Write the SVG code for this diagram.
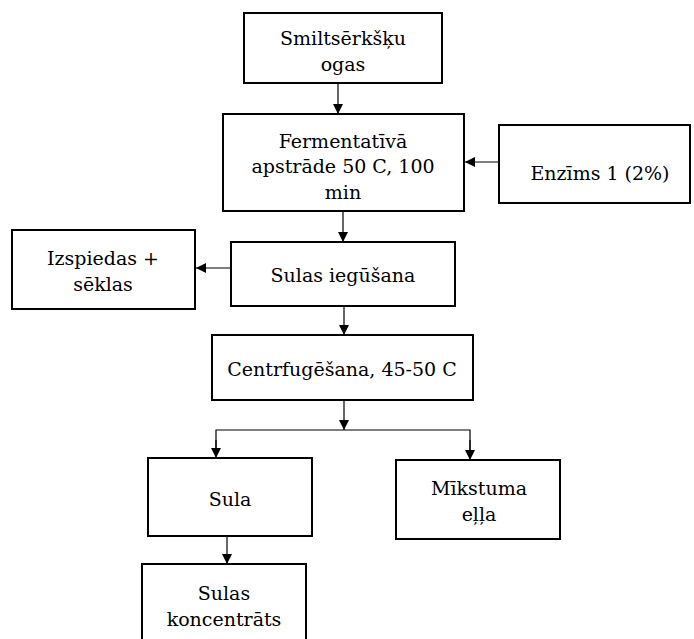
<svg xmlns="http://www.w3.org/2000/svg" width="694" height="639" viewBox="0 0 694 639">
<style>
.box{fill:#fff;stroke:#000;stroke-width:2}
.t{font-family:"DejaVu Serif",serif;font-size:19px;fill:#000;text-anchor:middle}
.c{fill:none;stroke:#000;stroke-width:1.2}
</style>
<defs>
<marker id="ah" markerWidth="10" markerHeight="10" refX="10" refY="5" orient="auto" markerUnits="userSpaceOnUse">
<path d="M0,0 L10,5 L0,10 Z" fill="#000"/>
</marker>
</defs>
<rect width="694" height="639" fill="#fff"/>
<g id="connectors">
<line class="c" x1="338" y1="84" x2="338" y2="114" marker-end="url(#ah)"/>
<line class="c" x1="499" y1="162" x2="465" y2="162" marker-end="url(#ah)"/>
<line class="c" x1="343" y1="211" x2="343" y2="242" marker-end="url(#ah)"/>
<line class="c" x1="231" y1="268" x2="196" y2="268" marker-end="url(#ah)"/>
<line class="c" x1="344" y1="306" x2="344" y2="335" marker-end="url(#ah)"/>
<line class="c" x1="344" y1="400" x2="344" y2="430" marker-end="url(#ah)"/>
<polyline class="c" points="216,450 216,430 470,430 470,450"/>
<line class="c" x1="216" y1="440" x2="216" y2="458" marker-end="url(#ah)"/>
<line class="c" x1="470" y1="440" x2="470" y2="460" marker-end="url(#ah)"/>
<line class="c" x1="227" y1="536" x2="227" y2="564" marker-end="url(#ah)"/>
</g>
<g id="n1"><rect class="box" x="244" y="13" width="198" height="70"/>
<text class="t" x="343" y="45">Smiltsērkšķu</text><text class="t" x="343" y="71">ogas</text></g>
<g id="n2"><rect class="box" x="223" y="114" width="241" height="97"/>
<text class="t" x="343" y="148">Fermentatīvā</text><text class="t" x="343" y="173">apstrāde 50 C, 100</text><text class="t" x="343" y="199">min</text></g>
<g id="n3"><rect class="box" x="499" y="125" width="191" height="78"/>
<text class="t" x="600" y="180">Enzīms 1 (2%)</text></g>
<g id="n4"><rect class="box" x="231" y="242" width="224" height="64"/>
<text class="t" x="343" y="282">Sulas iegūšana</text></g>
<g id="n5"><rect class="box" x="12" y="230" width="183" height="79"/>
<text class="t" x="103" y="265">Izspiedas +</text><text class="t" x="103" y="291">sēklas</text></g>
<g id="n6"><rect class="box" x="212" y="335" width="261" height="65"/>
<text class="t" x="342" y="376">Centrfugēšana, 45-50 C</text></g>
<g id="n7"><rect class="box" x="148" y="458" width="164" height="78"/>
<text class="t" x="230" y="506">Sula</text></g>
<g id="n8"><rect class="box" x="396" y="460" width="164" height="79"/>
<text class="t" x="479" y="495">Mīkstuma</text><text class="t" x="479" y="521">eļļa</text></g>
<g id="n9"><rect class="box" x="142" y="564" width="164" height="90"/>
<text class="t" x="224" y="600">Sulas</text><text class="t" x="224" y="626">koncentrāts</text></g>
</svg>
